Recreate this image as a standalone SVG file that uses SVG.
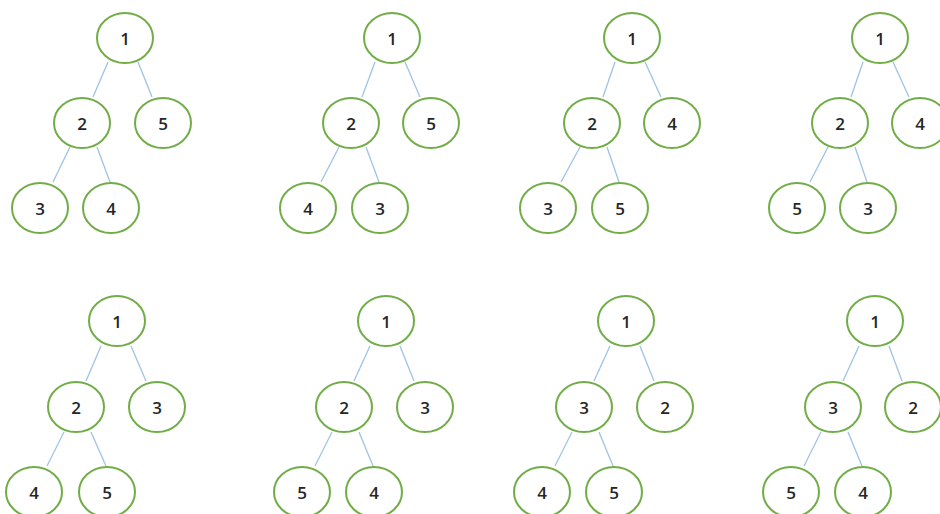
<svg xmlns="http://www.w3.org/2000/svg" width="940" height="514" viewBox="0 0 940 514">
<style>
.n ellipse{fill:#fff;stroke:#70ad47;stroke-width:2}
.n text{font-family:"Open Sans","Noto Sans",sans-serif;font-size:17px;font-weight:600;fill:#262626;text-anchor:middle}
#edges line{stroke:#9dc3e6;stroke-width:1.3}
</style>
<rect width="940" height="514" fill="#fff"/>
<g id="edges">
<line x1="108" y1="62" x2="93" y2="97"/><line x1="138" y1="62" x2="152" y2="97"/>
<line x1="70" y1="147" x2="53" y2="182"/><line x1="97" y1="147" x2="110" y2="182"/>
<line x1="375" y1="62" x2="362" y2="97"/><line x1="405" y1="62" x2="420" y2="97"/>
<line x1="339" y1="147" x2="321" y2="182"/><line x1="366" y1="147" x2="379" y2="182"/>
<line x1="615" y1="62" x2="603" y2="97"/><line x1="645" y1="62" x2="661" y2="97"/>
<line x1="580" y1="147" x2="561" y2="182"/><line x1="607" y1="147" x2="619" y2="182"/>
<line x1="863" y1="62" x2="851" y2="97"/><line x1="893" y1="62" x2="909" y2="97"/>
<line x1="828" y1="147" x2="810" y2="182"/><line x1="855" y1="147" x2="867" y2="182"/>
<line x1="101" y1="346" x2="86" y2="381"/><line x1="131" y1="346" x2="146" y2="381"/>
<line x1="64" y1="432" x2="47" y2="466"/><line x1="91" y1="432" x2="106" y2="466"/>
<line x1="370" y1="346" x2="354" y2="381"/><line x1="400" y1="346" x2="414" y2="381"/>
<line x1="332" y1="432" x2="315" y2="466"/><line x1="359" y1="432" x2="373" y2="466"/>
<line x1="610" y1="346" x2="594" y2="381"/><line x1="640" y1="346" x2="654" y2="381"/>
<line x1="572" y1="432" x2="555" y2="466"/><line x1="599" y1="432" x2="613" y2="466"/>
<line x1="859" y1="346" x2="843" y2="381"/><line x1="889" y1="346" x2="902" y2="381"/>
<line x1="821" y1="432" x2="804" y2="466"/><line x1="848" y1="432" x2="862" y2="466"/>
</g>
<g id="t1r" class="n"><ellipse cx="125" cy="38" rx="28" ry="25"/><text x="125" y="45">1</text></g>
<g id="t1a" class="n"><ellipse cx="82" cy="123" rx="28" ry="25"/><text x="82" y="130">2</text></g>
<g id="t1b" class="n"><ellipse cx="163" cy="123" rx="28" ry="25"/><text x="163" y="130">5</text></g>
<g id="t1c" class="n"><ellipse cx="40" cy="208" rx="28" ry="25"/><text x="40" y="215">3</text></g>
<g id="t1d" class="n"><ellipse cx="111" cy="208" rx="28" ry="25"/><text x="111" y="215">4</text></g>
<g id="t2r" class="n"><ellipse cx="392" cy="38" rx="28" ry="25"/><text x="392" y="45">1</text></g>
<g id="t2a" class="n"><ellipse cx="351" cy="123" rx="28" ry="25"/><text x="351" y="130">2</text></g>
<g id="t2b" class="n"><ellipse cx="431" cy="123" rx="28" ry="25"/><text x="431" y="130">5</text></g>
<g id="t2c" class="n"><ellipse cx="308" cy="208" rx="28" ry="25"/><text x="308" y="215">4</text></g>
<g id="t2d" class="n"><ellipse cx="380" cy="208" rx="28" ry="25"/><text x="380" y="215">3</text></g>
<g id="t3r" class="n"><ellipse cx="632" cy="38" rx="28" ry="25"/><text x="632" y="45">1</text></g>
<g id="t3a" class="n"><ellipse cx="592" cy="123" rx="28" ry="25"/><text x="592" y="130">2</text></g>
<g id="t3b" class="n"><ellipse cx="672" cy="123" rx="28" ry="25"/><text x="672" y="130">4</text></g>
<g id="t3c" class="n"><ellipse cx="548" cy="208" rx="28" ry="25"/><text x="548" y="215">3</text></g>
<g id="t3d" class="n"><ellipse cx="620" cy="208" rx="28" ry="25"/><text x="620" y="215">5</text></g>
<g id="t4r" class="n"><ellipse cx="880" cy="38" rx="28" ry="25"/><text x="880" y="45">1</text></g>
<g id="t4a" class="n"><ellipse cx="840" cy="123" rx="28" ry="25"/><text x="840" y="130">2</text></g>
<g id="t4b" class="n"><ellipse cx="920" cy="123" rx="28" ry="25"/><text x="920" y="130">4</text></g>
<g id="t4c" class="n"><ellipse cx="797" cy="208" rx="28" ry="25"/><text x="797" y="215">5</text></g>
<g id="t4d" class="n"><ellipse cx="868" cy="208" rx="28" ry="25"/><text x="868" y="215">3</text></g>
<g id="t5r" class="n"><ellipse cx="117" cy="321" rx="28" ry="25"/><text x="117" y="328">1</text></g>
<g id="t5a" class="n"><ellipse cx="76" cy="407" rx="28" ry="25"/><text x="76" y="414">2</text></g>
<g id="t5b" class="n"><ellipse cx="157" cy="407" rx="28" ry="25"/><text x="157" y="414">3</text></g>
<g id="t5c" class="n"><ellipse cx="34" cy="492" rx="28" ry="25"/><text x="34" y="499">4</text></g>
<g id="t5d" class="n"><ellipse cx="107" cy="492" rx="28" ry="25"/><text x="107" y="499">5</text></g>
<g id="t6r" class="n"><ellipse cx="386" cy="321" rx="28" ry="25"/><text x="386" y="328">1</text></g>
<g id="t6a" class="n"><ellipse cx="344" cy="407" rx="28" ry="25"/><text x="344" y="414">2</text></g>
<g id="t6b" class="n"><ellipse cx="425" cy="407" rx="28" ry="25"/><text x="425" y="414">3</text></g>
<g id="t6c" class="n"><ellipse cx="302" cy="492" rx="28" ry="25"/><text x="302" y="499">5</text></g>
<g id="t6d" class="n"><ellipse cx="374" cy="492" rx="28" ry="25"/><text x="374" y="499">4</text></g>
<g id="t7r" class="n"><ellipse cx="626" cy="321" rx="28" ry="25"/><text x="626" y="328">1</text></g>
<g id="t7a" class="n"><ellipse cx="584" cy="407" rx="28" ry="25"/><text x="584" y="414">3</text></g>
<g id="t7b" class="n"><ellipse cx="665" cy="407" rx="28" ry="25"/><text x="665" y="414">2</text></g>
<g id="t7c" class="n"><ellipse cx="542" cy="492" rx="28" ry="25"/><text x="542" y="499">4</text></g>
<g id="t7d" class="n"><ellipse cx="614" cy="492" rx="28" ry="25"/><text x="614" y="499">5</text></g>
<g id="t8r" class="n"><ellipse cx="875" cy="321" rx="28" ry="25"/><text x="875" y="328">1</text></g>
<g id="t8a" class="n"><ellipse cx="833" cy="407" rx="28" ry="25"/><text x="833" y="414">3</text></g>
<g id="t8b" class="n"><ellipse cx="913" cy="407" rx="28" ry="25"/><text x="913" y="414">2</text></g>
<g id="t8c" class="n"><ellipse cx="791" cy="492" rx="28" ry="25"/><text x="791" y="499">5</text></g>
<g id="t8d" class="n"><ellipse cx="863" cy="492" rx="28" ry="25"/><text x="863" y="499">4</text></g>
</svg>
